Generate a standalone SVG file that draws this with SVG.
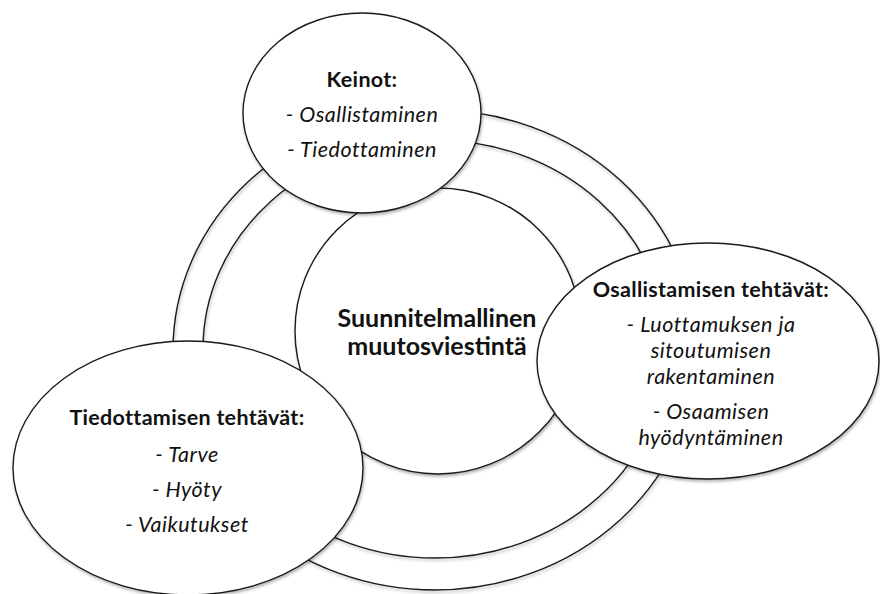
<svg xmlns="http://www.w3.org/2000/svg" width="880" height="594" viewBox="0 0 880 594">
  <defs>
    <filter id="sh" x="-10%" y="-10%" width="120%" height="125%">
      <feDropShadow dx="1" dy="2" stdDeviation="1.4" flood-color="#000" flood-opacity="0.3"/>
    </filter>
    <style>
      .shape { fill: #fff; stroke: #1a1a1a; stroke-width: 1.4; filter: url(#sh); }
      .line { fill: none; stroke: #1a1a1a; stroke-width: 1.4; filter: url(#sh); }
      text { font-family: Lato, "Open Sans", "Liberation Sans", sans-serif; text-anchor: middle; fill: #111; }
      .hd { font-weight: bold; font-size: 21.5px; letter-spacing: 0.3px; }
      .it { font-style: italic; font-size: 21.5px; letter-spacing: 0.5px; }
      .ct { font-weight: bold; font-size: 25px; }
    </style>
  </defs>
  <rect width="880" height="594" fill="#fff"/>
  <g id="ring">
    <ellipse class="line" cx="435" cy="350" rx="262" ry="240"/>
    <ellipse class="line" cx="435" cy="349" rx="232" ry="209"/>
  </g>
  <g id="connectors"/>
  <g id="center">
    <circle class="shape" cx="438" cy="331" r="143"/>
    <text class="ct" x="437" y="327">Suunnitelmallinen</text>
    <text class="ct" x="437" y="355">muutosviestintä</text>
  </g>
  <g id="keinot">
    <ellipse class="shape" cx="362" cy="113" rx="119" ry="100"/>
    <text class="hd" x="362" y="87">Keinot:</text>
    <text class="it" x="362" y="122">- Osallistaminen</text>
    <text class="it" x="362" y="157">- Tiedottaminen</text>
  </g>
  <g id="osallistamisen">
    <ellipse class="shape" cx="708" cy="361" rx="171" ry="118"/>
    <text class="hd" x="711" y="297">Osallistamisen tehtävät:</text>
    <text class="it" x="711" y="332">- Luottamuksen ja</text>
    <text class="it" x="711" y="358">sitoutumisen</text>
    <text class="it" x="711" y="384">rakentaminen</text>
    <text class="it" x="711" y="419">- Osaamisen</text>
    <text class="it" x="711" y="445">hyödyntäminen</text>
  </g>
  <g id="tiedottamisen">
    <ellipse class="shape" cx="188" cy="468" rx="175" ry="127"/>
    <text class="hd" x="187" y="425">Tiedottamisen tehtävät:</text>
    <text class="it" x="187" y="462">- Tarve</text>
    <text class="it" x="187" y="497">- Hyöty</text>
    <text class="it" x="187" y="532">- Vaikutukset</text>
  </g>
</svg>
